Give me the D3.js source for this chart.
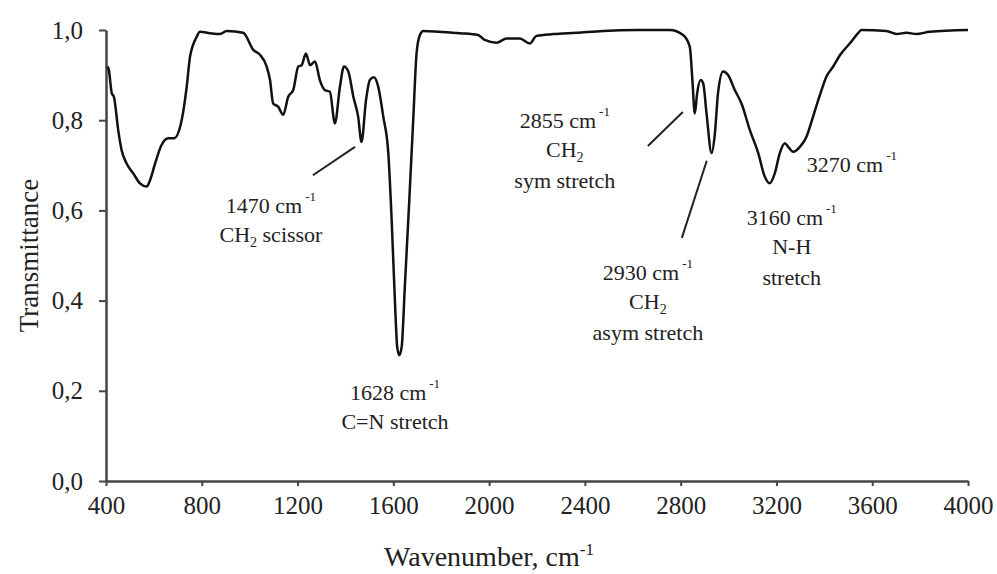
<!DOCTYPE html>
<html>
<head>
<meta charset="utf-8">
<script src="https://cdn.jsdelivr.net/npm/d3@7"></script>
<style>
  body { margin: 0; background: #fff; }
  text { font-family: "Liberation Serif", "Times New Roman", serif; fill: #222; }
</style>
</head>
<body>
<div id="chart"></div>
<script>
// Spectrum: wavenumber (cm-1) and transmittance
const wavenumbers = [
  407, 412, 424, 433, 451, 465, 486, 514, 542, 570, 584, 605, 632, 660, 684, 716, 737, 751, 779, 792,
  834, 876, 904, 973, 1015, 1043, 1071, 1085, 1098, 1119, 1140, 1161, 1182, 1203, 1217, 1235, 1252, 1273,
  1293, 1314, 1335, 1356, 1377, 1394, 1412, 1433, 1453, 1467, 1486, 1502, 1519, 1537, 1558, 1579, 1593,
  1607, 1616, 1625, 1635, 1648, 1666, 1683, 1697, 1711, 1725, 1794, 1878, 1954, 1982, 2031, 2073, 2128,
  2170, 2198, 2268, 2365, 2476, 2616, 2755, 2810, 2838, 2849, 2859, 2869, 2883, 2894, 2908, 2929, 2943,
  2956, 2977, 2998, 3026, 3054, 3089, 3124, 3151, 3172, 3193, 3214, 3235, 3249, 3270, 3298, 3325, 3353,
  3381, 3409, 3437, 3465, 3506, 3541, 3555, 3659, 3701, 3743, 3784, 3840, 4000
];
const transmittance = [
  0.919, 0.911, 0.860, 0.852, 0.778, 0.734, 0.704, 0.682, 0.660, 0.653, 0.667, 0.704, 0.745, 0.760, 0.760, 0.800, 0.874, 0.941, 0.985, 0.996,
  0.993, 0.991, 0.998, 0.994, 0.956, 0.945, 0.919, 0.889, 0.837, 0.830, 0.812, 0.852, 0.867, 0.919, 0.922, 0.948, 0.922, 0.930,
  0.889, 0.867, 0.863, 0.793, 0.874, 0.919, 0.908, 0.852, 0.808, 0.752, 0.845, 0.889, 0.895, 0.874, 0.808, 0.727, 0.579,
  0.394, 0.298, 0.279, 0.298, 0.431, 0.616, 0.800, 0.948, 0.989, 0.998, 0.996, 0.993, 0.989, 0.978, 0.972, 0.981, 0.981,
  0.970, 0.987, 0.991, 0.994, 0.998, 1.000, 1.000, 0.989, 0.963, 0.889, 0.815, 0.860, 0.889, 0.882, 0.815, 0.727, 0.771,
  0.860, 0.908, 0.900, 0.867, 0.837, 0.778, 0.727, 0.675, 0.660, 0.682, 0.727, 0.749, 0.741, 0.730, 0.741, 0.763, 0.808,
  0.855, 0.897, 0.919, 0.944, 0.970, 0.993, 1.000, 0.998, 0.991, 0.994, 0.991, 0.996, 1.000
];

const xTicks = [400, 800, 1200, 1600, 2000, 2400, 2800, 3200, 3600, 4000];
const yTicks = [0, 0.2, 0.4, 0.6, 0.8, 1.0];

// Peak labels: first line, then further lines ([text, subscript, text])
const peakLabels = [
  { head: "1470 cm", lines: [["CH", "2", " scissor"]] },
  { head: "1628 cm", lines: [["C=N stretch"]] },
  { head: "2855 cm", lines: [["CH", "2"], ["sym stretch"]] },
  { head: "2930 cm", lines: [["CH", "2"], ["asym stretch"]] },
  { head: "3160 cm", lines: [["N-H"], ["stretch"]] },
  { head: "3270 cm", lines: [] }
];
// Where each label sits, in data units (centre of first baseline)
const labelAt = [[1089, 0.594], [1607, 0.180], [2316, 0.783], [2663, 0.446], [3264, 0.568], [3515, 0.685]];
// Leader lines, in data units
const leaders = [
  [[1264, 0.678], [1440, 0.741]],
  [[2663, 0.743], [2809, 0.818]],
  [[2805, 0.539], [2909, 0.710]]
];

const width = 997, height = 574;
const margin = { top: 30, right: 29, bottom: 93, left: 106 };

const svg = d3.select("#chart").append("svg")
  .attr("width", width)
  .attr("height", height);

const x = d3.scaleLinear().domain([400, 4000]).range([margin.left, width - margin.right]);
const y = d3.scaleLinear().domain([0, 1]).range([height - margin.bottom, margin.top]);

const fmt = d => d3.format(".1f")(d).replace(".", ",");

// axes
const xAxis = svg.append("g")
  .attr("transform", `translate(0,${y(0)})`)
  .call(d3.axisBottom(x).tickValues(xTicks).tickFormat(d3.format("d"))
    .tickSize(5).tickSizeOuter(0).tickPadding(10));
const yAxis = svg.append("g")
  .attr("transform", `translate(${x(400)},0)`)
  .call(d3.axisLeft(y).tickValues(yTicks).tickFormat(fmt).tickSize(7).tickSizeOuter(0).tickPadding(16));

[xAxis, yAxis].forEach(g => {
  g.attr("font-family", null);
  g.select(".domain").attr("stroke", "#444").attr("stroke-width", 2.5);
  g.selectAll(".tick line").attr("stroke", "#444").attr("stroke-width", 2);
  g.selectAll(".tick text").attr("font-size", 25).attr("fill", "#222");
});

// spectrum
const points = wavenumbers.map((w, i) => [w, transmittance[i]]);
const line = d3.line()
  .x(d => x(d[0]))
  .y(d => y(d[1]))
  .curve(d3.curveMonotoneX);

svg.append("path")
  .datum(points)
  .attr("d", line)
  .attr("fill", "none")
  .attr("stroke", "#111")
  .attr("stroke-width", 2.5)
  .attr("stroke-linejoin", "round");

// leaders
svg.selectAll(".leader")
  .data(leaders)
  .enter().append("line")
  .attr("x1", d => x(d[0][0])).attr("y1", d => y(d[0][1]))
  .attr("x2", d => x(d[1][0])).attr("y2", d => y(d[1][1]))
  .attr("stroke", "#222")
  .attr("stroke-width", 2);

// peak labels
peakLabels.forEach((lab, i) => {
  const cx = x(labelAt[i][0]);
  const t = svg.append("text")
    .attr("x", cx)
    .attr("y", y(labelAt[i][1]))
    .attr("text-anchor", "middle")
    .attr("font-size", 22);
  const head = t.append("tspan").attr("x", cx);
  head.append("tspan").text(lab.head);
  head.append("tspan").attr("dx", 3).attr("dy", -12).attr("font-size", 13).text("-1");
  let shift = 12;
  lab.lines.forEach((parts, j) => {
    const ln = t.append("tspan").attr("x", cx).attr("dy", (j === 0 ? 29 : 31) + shift);
    shift = 0;
    ln.append("tspan").text(parts[0]);
    if (parts.length > 1) {
      ln.append("tspan").attr("font-size", 14).attr("dy", 5).text(parts[1]);
      shift = -5;
      if (parts[2]) {
        ln.append("tspan").attr("dy", -5).text(parts[2]);
        shift = 0;
      }
    }
  });
});

// axis titles
const xt = svg.append("text")
  .attr("x", 489)
  .attr("y", 566)
  .attr("text-anchor", "middle")
  .attr("font-size", 28);
xt.append("tspan").text("Wavenumber, cm");
xt.append("tspan").attr("dy", -11).attr("font-size", 17).text("-1");

svg.append("text")
  .attr("transform", `translate(38,${(y(0) + y(1)) / 2}) rotate(-90)`)
  .attr("text-anchor", "middle")
  .attr("font-size", 27)
  .text("Transmittance");
</script>
</body>
</html>
